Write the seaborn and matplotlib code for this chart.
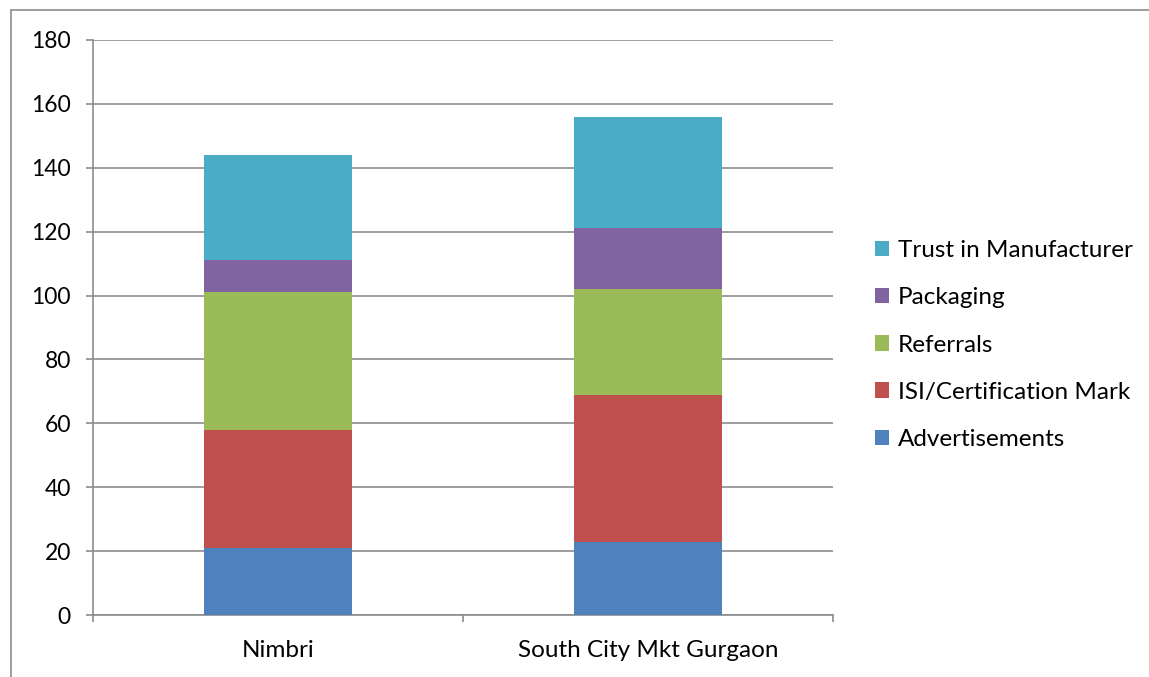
import numpy as np
import pandas as pd
import matplotlib
matplotlib.use('Agg')
import matplotlib.pyplot as plt
import seaborn as sns
from matplotlib.lines import Line2D
from matplotlib.patches import Patch

# data
places = ['Nimbri', 'South City Mkt Gurgaon']
series = ['Advertisements', 'ISI/Certification Mark', 'Referrals',
          'Packaging', 'Trust in Manufacturer']
advertisements = [21, 23]
isi_mark = [37, 46]
referrals = [43, 33]
packaging = [10, 19]
trust = [33, 35]

colors = ['#4F81BD', '#C0504D', '#9BBB59', '#8064A2', '#4BACC6']

sns.set_style('white')
plt.rcParams['font.family'] = ['Lato', 'DejaVu Sans']
plt.rcParams['text.color'] = 'black'
plt.rcParams['xtick.labelcolor'] = 'black'
plt.rcParams['ytick.labelcolor'] = 'black'

fig = plt.figure(figsize=(11.49, 6.77), dpi=100)
ax = fig.add_axes([93/1149, 62/677, 740/1149, 575/677])

values = [advertisements, isi_mark, referrals, packaging, trust]
bottom = np.zeros(len(places))
for name, vals, c in zip(series, values, colors):
    df = pd.DataFrame({'place': places, 'value': vals})
    sns.barplot(data=df, x='place', y='value', color=c, width=0.4,
                bottom=bottom, ax=ax, linewidth=0, saturation=1, zorder=3)
    bottom = bottom + np.array(vals)

ax.set_xlim(-0.5, 1.5)
ax.set_ylim(0, 180)
ax.set_yticks(range(0, 181, 20))
ax.yaxis.grid(True, color='#8c8c8c', linewidth=1.2, zorder=0)
ax.set_axisbelow(True)
ax.set_xlabel('')
ax.set_ylabel('')

for s in ['top', 'right']:
    ax.spines[s].set_visible(False)
for s in ['left', 'bottom']:
    ax.spines[s].set_color('#8c8c8c')
    ax.spines[s].set_linewidth(1.2)

ax.tick_params(axis='y', which='major', length=5, width=1.2, color='#8c8c8c',
               labelsize=16.5, pad=11, left=True)
ax.tick_params(axis='x', which='major', length=0, labelsize=17.5, pad=18)
ax.set_xticks([-0.5, 0.5, 1.5], minor=True)
ax.tick_params(axis='x', which='minor', length=5, width=1.2, color='#8c8c8c',
               bottom=True)

handles = [Patch(facecolor=c, edgecolor='none') for c in colors][::-1]
fig.legend(handles, series[::-1], loc='center left',
           bbox_to_anchor=(853/1149, 1 - 345/677), frameon=False,
           fontsize=17.5, handlelength=0.6, handleheight=0.6,
           handletextpad=0.35, labelspacing=1.08)

# outer chart border (left and top)
fig.add_artist(Line2D([11/1149, 11/1149], [0, 1 - 10/677],
                      transform=fig.transFigure, color='#8c8c8c', linewidth=1.2))
fig.add_artist(Line2D([11/1149, 1], [1 - 10/677, 1 - 10/677],
                      transform=fig.transFigure, color='#8c8c8c', linewidth=1.2))

fig.savefig('out.png', dpi=100)
